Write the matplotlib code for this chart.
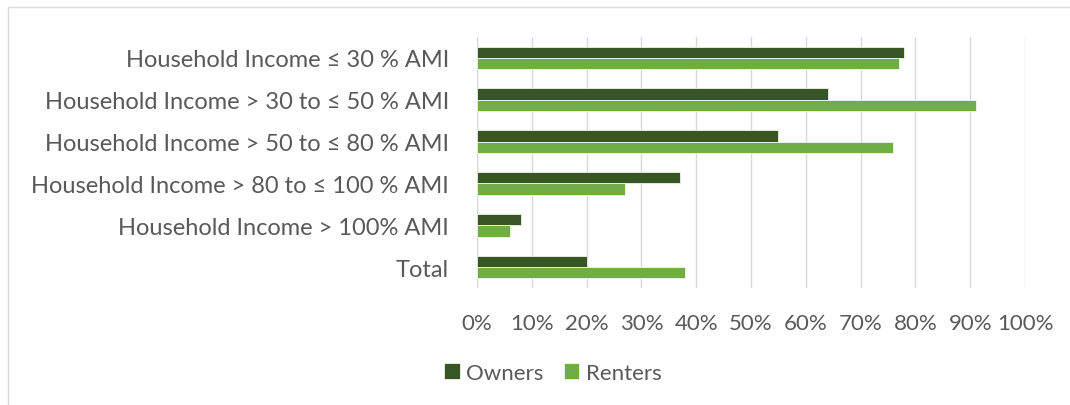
import matplotlib
matplotlib.use("Agg")
import matplotlib.pyplot as plt
from matplotlib.patches import Rectangle
import numpy as np

categories = [
    "Household Income \u2264 30 % AMI",
    "Household Income > 30 to \u2264 50 % AMI",
    "Household Income > 50 to \u2264 80 % AMI",
    "Household Income > 80 to \u2264 100 % AMI",
    "Household Income > 100% AMI",
    "Total",
]
owners = [0.78, 0.64, 0.55, 0.37, 0.08, 0.20]
renters = [0.77, 0.91, 0.76, 0.27, 0.06, 0.38]
xticks = [0, 0.1, 0.2, 0.3, 0.4, 0.5, 0.6, 0.7, 0.8, 0.9, 1.0]
xticklabels = ["0%", "10%", "20%", "30%", "40%", "50%", "60%", "70%", "80%", "90%", "100%"]

plt.rcParams['font.family'] = ['Lato', 'DejaVu Sans']

W, H = 1070, 406
fig = plt.figure(figsize=(W / 100, H / 100), dpi=100)
fig.patches.append(Rectangle((8 / W, -0.1), 1.2, 1 - 8 / H + 0.1, transform=fig.transFigure,
                             fill=False, edgecolor='#D9D9D9', linewidth=1.0))

ax = fig.add_axes([477 / W, 1 - 289 / H, (1025 - 477) / W, (289 - 38) / H])
y = np.arange(len(categories))
h = 0.27
ax.barh(y - h / 2, owners, height=h, color='#375623', edgecolor='white', linewidth=0.5,
        label='Owners', zorder=3)
ax.barh(y + h / 2, renters, height=h, color='#70AD47', edgecolor='white', linewidth=0.5,
        label='Renters', zorder=3)
ax.set_ylim(len(categories) - 0.5, -0.5)
ax.set_xlim(0, 1.0)
ax.set_xticks(xticks)
ax.set_xticklabels(xticklabels)
ax.set_yticks(y)
ax.set_yticklabels(categories)
ax.grid(axis='x', color='#D9D9D9', linewidth=1.0, zorder=0)
for s in ax.spines.values():
    s.set_visible(False)
ax.axvline(0, color='#D9D9D9', linewidth=1.0, zorder=1)
ax.tick_params(axis='both', length=0, colors='#595959')
ax.tick_params(axis='x', pad=18, labelsize=16)
ax.tick_params(axis='y', pad=20, labelsize=17)

fig.legend(loc='center', bbox_to_anchor=(553 / W, 1 - 374 / H), ncol=2, frameon=False,
           fontsize=16, handlelength=0.7, handleheight=0.7, handletextpad=0.3,
           columnspacing=0.9, labelcolor='#595959')

fig.savefig("out.png", dpi=100)
